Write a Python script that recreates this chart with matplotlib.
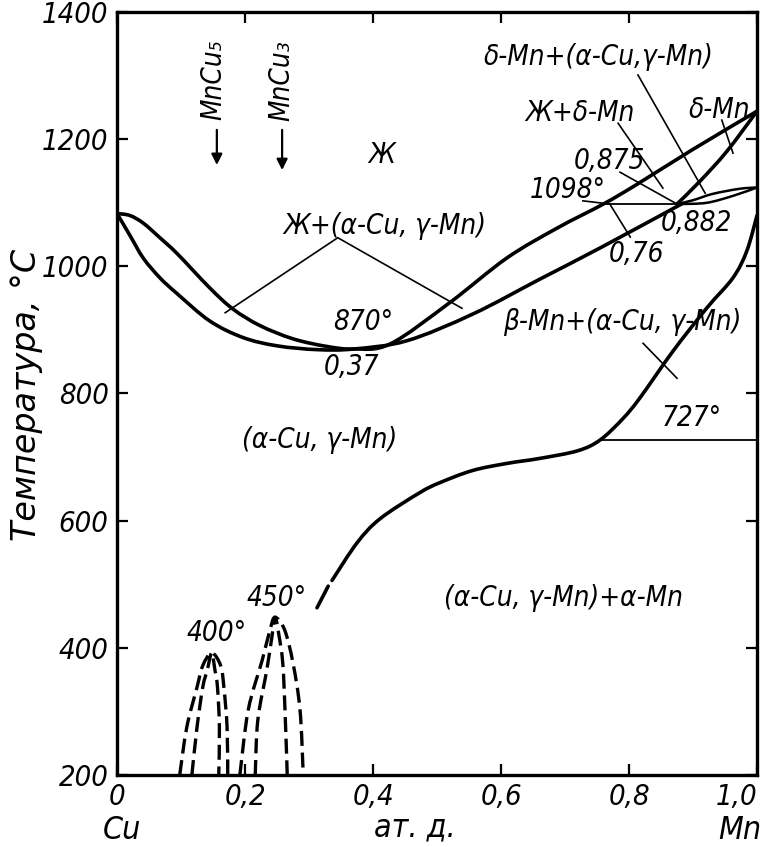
import matplotlib
matplotlib.use("Agg")
import numpy as np
import matplotlib.pyplot as plt
from matplotlib import font_manager as fm
from matplotlib.ft2font import FT2Font
from matplotlib.path import Path
from matplotlib.patches import PathPatch

# look for a narrow italic face, fall back to DejaVu Sans Oblique
def pick_font():
    cands = []
    for f in fm.fontManager.ttflist:
        if f.style not in ("italic", "oblique"):
            continue
        narrow = ("Narrow" in f.name or "ondensed" in f.name
                  or str(f.stretch) in ("condensed", "semi-condensed", "extra-condensed"))
        if narrow:
            cands.append(f)
    for pref in ("Liberation", "DejaVu", "Noto", "Roboto", "Open"):
        for f in cands:
            if pref in f.name and f.weight in (400, "normal", "regular", "book"):
                return f.fname
        for f in cands:
            if pref in f.name:
                return f.fname
    if cands:
        return cands[0].fname
    return fm.findfont(fm.FontProperties(family="DejaVu Sans", style="oblique"))

FONT_FILE = pick_font()
FALLBACK = fm.findfont(fm.FontProperties(family="DejaVu Sans", style="oblique"))
_ft = FT2Font(FONT_FILE)

def fprop(text, size):
    ok = all(_ft.get_char_index(ord(c)) != 0 for c in text if not c.isspace())
    return fm.FontProperties(fname=FONT_FILE if ok else FALLBACK, size=size)

# Data (x = mole fraction Mn, T = deg C)
liq_x = [0, 0.02, 0.041, 0.067, 0.094, 0.145, 0.181, 0.223, 0.275, 0.328, 0.37,
         0.427, 0.52, 0.609, 0.6875, 0.76, 0.8125, 0.9, 1.0]
liq_T = [1083, 1080, 1068, 1045, 1020, 966, 933, 907, 886, 874, 870,
         878, 943, 1013, 1060, 1098, 1129, 1184, 1244]

sol_x = [0, 0.02, 0.041, 0.067, 0.094, 0.145, 0.197, 0.25, 0.3125, 0.37,
         0.453, 0.556, 0.661, 0.755, 0.882]
sol_T = [1083, 1049, 1013, 982, 957, 914, 888, 875, 869, 870,
         883, 925, 980, 1029, 1098]

delta_sol_x = [0.875, 0.911, 0.953, 1.0]
delta_sol_T = [1098, 1134, 1181, 1244]

lens_up_x = [0.875, 0.9, 0.931, 0.973, 1.0]
lens_up_T = [1098, 1104, 1114, 1122, 1124]
lens_lo_x = [0.882, 0.922, 0.963, 1.0]
lens_lo_T = [1098, 1100, 1111, 1124]

beta_x = [0.336, 0.375, 0.411, 0.473, 0.505, 0.556, 0.609, 0.661, 0.72,
          0.755, 0.79, 0.817, 0.869, 0.922, 0.9625, 0.984, 1.0]
beta_T = [506, 565, 603, 644, 660, 679, 690, 698, 710,
          727, 760, 793, 867, 935, 982, 1024, 1080]
beta_dash_x = [0.3125, 0.33]
beta_dash_T = [463, 497]

# ordering domes (MnCu5 ~400, MnCu3 ~450)
d400_out_x = [0.098, 0.109, 0.125, 0.134, 0.148, 0.162, 0.167, 0.172, 0.173]
d400_out_T = [200, 275, 338, 372, 392, 372, 338, 275, 200]
d400_in_x = [0.117, 0.125, 0.134, 0.141, 0.148, 0.153, 0.157, 0.160, 0.159]
d400_in_T = [200, 275, 338, 365, 392, 365, 338, 275, 200]
d450_out_x = [0.192, 0.205, 0.227, 0.239, 0.247, 0.262, 0.275, 0.286, 0.291]
d450_out_T = [200, 302, 381, 428, 448, 428, 376, 302, 200]
d450_in_x = [0.216, 0.22, 0.234, 0.242, 0.247, 0.253, 0.259, 0.2625, 0.266]
d450_in_T = [200, 286, 365, 417, 448, 420, 376, 302, 200]

iso_727 = ([0.755, 1.0], [727, 727])
iso_1098 = ([0.76, 0.882], [1098, 1098])

leaders = [
    ([0.169, 0.345, 0.539], [927, 1045, 934]),
    ([0.822, 0.875], [879, 824]),
    ([0.728, 0.77], [1103, 1098]),
    ([0.77, 0.802], [1098, 1046]),
    ([0.786, 0.875], [1148, 1098]),
    ([0.783, 0.853], [1225, 1123]),
    ([0.814, 0.919], [1301, 1115]),
    ([0.945, 0.9625], [1230, 1178]),
]

labels = [
    ("Ж", 0.414, 1175),
    ("Ж+(α-Cu, γ-Mn)", 0.419, 1063),
    ("870°", 0.384, 912),
    ("0,37", 0.367, 842),
    ("(α-Cu, γ-Mn)", 0.317, 727),
    ("δ-Mn+(α-Cu,γ-Mn)", 0.752, 1329),
    ("Ж+δ-Mn", 0.723, 1241),
    ("δ-Mn", 0.942, 1246),
    ("0,875", 0.769, 1166),
    ("1098°", 0.705, 1120),
    ("0,882", 0.906, 1068),
    ("0,76", 0.811, 1019),
    ("β-Mn+(α-Cu, γ-Mn)", 0.789, 912),
    ("727°", 0.898, 761),
    ("(α-Cu, γ-Mn)+α-Mn", 0.697, 478),
    ("400°", 0.156, 423),
    ("450°", 0.25, 478),
]

compounds = [("MnCu₅", 0.15, 1293, 0.156, 1219, 1155),
             ("MnCu₃", 0.256, 1292, 0.258, 1219, 1147)]

xticks = [0, 0.2, 0.4, 0.6, 0.8, 1.0]
xtick_labels = ["0", "0,2", "0,4", "0,6", "0,8", "1,0"]
yticks = [200, 400, 600, 800, 1000, 1200, 1400]


def smooth(ax, xs, ts, **kw):
    # Catmull-Rom through the read points, drawn as cubic Bezier path
    p = np.column_stack([xs, ts]).astype(float)
    verts = [p[0]]
    codes = [Path.MOVETO]
    n = len(p)
    for i in range(n - 1):
        p0 = p[i - 1] if i > 0 else p[i]
        p3 = p[i + 2] if i + 2 < n else p[i + 1]
        c1 = p[i] + (p[i + 1] - p0) / 6
        c2 = p[i + 1] - (p3 - p[i]) / 6
        verts += [c1, c2, p[i + 1]]
        codes += [Path.CURVE4] * 3
    ax.add_patch(PathPatch(Path(verts, codes), fill=False, **kw))


fig = plt.figure(figsize=(7.66, 8.47), dpi=100)
ax = fig.add_axes([117 / 766, 1 - 775 / 847, 640 / 766, 763 / 847])

lw = 2.6
kw = dict(edgecolor="black", lw=lw, capstyle="round", joinstyle="round")
smooth(ax, liq_x, liq_T, **kw)
smooth(ax, sol_x, sol_T, **kw)
smooth(ax, delta_sol_x, delta_sol_T, **kw)
smooth(ax, lens_up_x, lens_up_T, edgecolor="black", lw=1.8)
smooth(ax, lens_lo_x, lens_lo_T, edgecolor="black", lw=1.8)
smooth(ax, beta_x, beta_T, **kw)
ax.plot(beta_dash_x, beta_dash_T, color="black", lw=lw, solid_capstyle="round")

for xs, ts in [(d400_out_x, d400_out_T), (d400_in_x, d400_in_T),
               (d450_out_x, d450_out_T), (d450_in_x, d450_in_T)]:
    smooth(ax, xs, ts, edgecolor="black", lw=2.4, linestyle=(0, (4.5, 2.0)),
           capstyle="butt")

ax.plot(*iso_727, color="black", lw=1.3)
ax.plot(*iso_1098, color="black", lw=1.3)
for xs, ts in leaders:
    ax.plot(xs, ts, color="black", lw=1.2)

fs = 20
for txt, x, t in labels:
    ax.text(x, t, txt, fontproperties=fprop(txt, fs), ha="center", va="center")

for txt, tx, tt, ax_x, t0, t1 in compounds:
    ax.text(tx, tt, txt, fontproperties=fprop(txt, fs), rotation=90,
            ha="center", va="center")
    ax.annotate("", xy=(ax_x, t1), xytext=(ax_x, t0),
                arrowprops=dict(arrowstyle="-|>", color="black", lw=1.6,
                                mutation_scale=16))

ax.set_xlim(0, 1)
ax.set_ylim(200, 1400)
ax.set_xticks(xticks)
ax.set_xticklabels(xtick_labels)
ax.set_yticks(yticks)
ax.set_yticklabels([str(v) for v in yticks])
ax.tick_params(direction="in", length=8, width=1.6, top=True, right=True, pad=6)
for lab in ax.get_xticklabels() + ax.get_yticklabels():
    lab.set_fontproperties(fprop(lab.get_text(), 21))
ax.get_xticklabels()[-1].set_horizontalalignment("right")
ax.get_xticklabels()[-1].set_x(1.005)
for s in ax.spines.values():
    s.set_linewidth(2.4)

yl = "Температура, °С"
fig.text(27 / 766, 1 - 395 / 847, yl, rotation=90,
         fontproperties=fm.FontProperties(fname=FALLBACK, size=24),
         ha="center", va="center")
fig.text(122 / 766, 1 - 830 / 847, "Cu", fontproperties=fprop("Cu", 23),
         ha="center", va="center")
fig.text(415 / 766, 1 - 828 / 847, "ат. д.", fontproperties=fprop("ат. д.", 23),
         ha="center", va="center")
fig.text(740 / 766, 1 - 830 / 847, "Mn", fontproperties=fprop("Mn", 23),
         ha="center", va="center")

fig.savefig("out.png", dpi=100)
